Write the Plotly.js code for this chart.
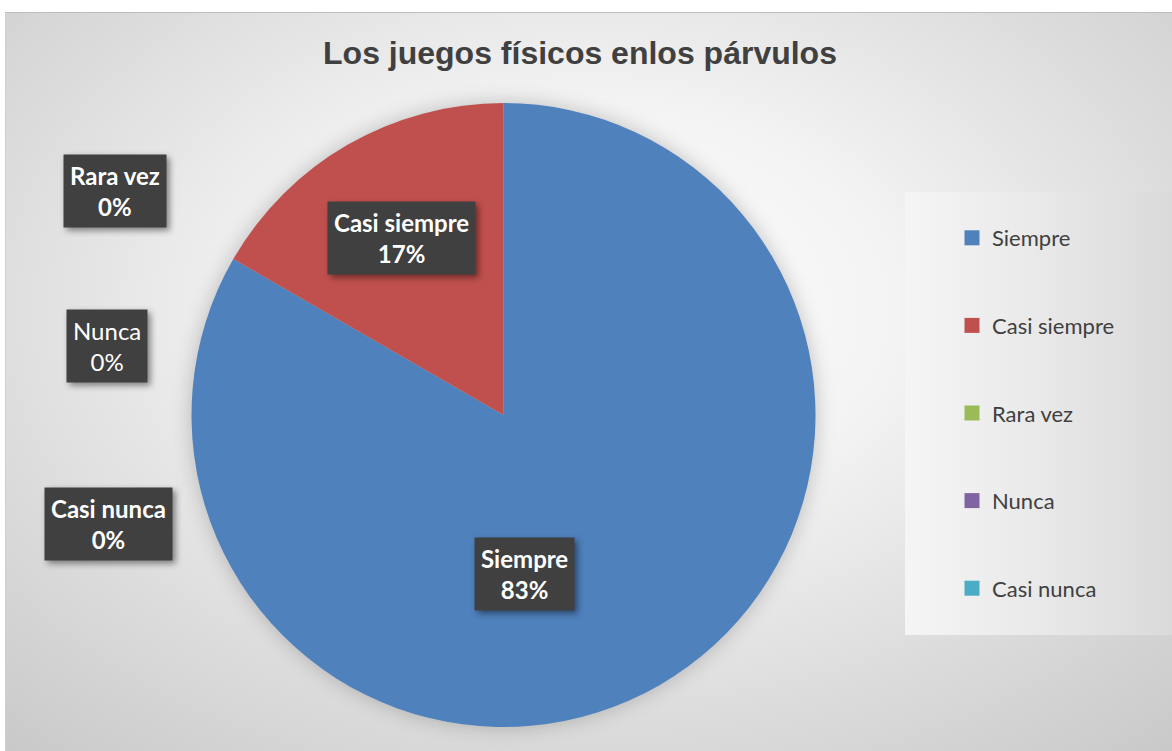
<!DOCTYPE html>
<html>
<head>
<meta charset="utf-8">
<script src="https://cdn.plot.ly/plotly-3.0.1.min.js"></script>
<style>
  html, body { margin: 0; padding: 0; background: #ffffff; width: 1172px; height: 751px; overflow: hidden; }
  #bg { position: absolute; left: 5px; top: 12px; width: 1167px; height: 739px;
        border-top: 1px solid #bdbdbd; border-left: 1px solid #d0d0d0;
        background: radial-gradient(ellipse 75% 80% at 50% 40%, #ffffff 0%, #f3f3f3 35%, #dcdcdc 70%, #c9c9c9 100%); }
  #legbox { position: absolute; left: 905px; top: 192px; width: 267px; height: 443px;
        background: linear-gradient(to right, #f5f5f5 0%, #e9e9e9 50%, #dadada 100%); }
  #chart { position: absolute; left: 0; top: 0; width: 1172px; height: 751px; }
  .pielayer { filter: drop-shadow(0px 0px 10px rgba(0,0,0,0.22)); }
  .annotation rect.bg { filter: drop-shadow(3px 3px 3px rgba(0,0,0,0.45)); }
</style>
</head>
<body>
<div id="bg"></div>
<div id="legbox"></div>
<div id="chart"></div>
<script>
// ---- data ----
const categories = ['Siempre', 'Casi siempre', 'Rara vez', 'Nunca', 'Casi nunca'];
const values = [5, 1, 0, 0, 0];
const colors = ['#4F81BD', '#C0504D', '#9BBB59', '#8064A2', '#4BACC6'];
const chartTitle = 'Los juegos físicos enlos párvulos';

// ---- layout helpers ----
const W = 1172, H = 751;
const px = x => x / W;
const py = y => 1 - y / H;

const total = values.reduce((a, b) => a + b, 0);
const pct = values.map(v => Math.round(v / total * 100) + '%');

// label box centres (pixels) and weight per category
const labelPos = [[524, 574], [401, 238], [115, 191], [107, 346], [108, 524]];
const labelBold = [true, true, true, false, true];

const pie = {
  type: 'pie',
  labels: categories,
  values: values,
  sort: false,
  direction: 'clockwise',
  rotation: 0,
  marker: { colors: colors, line: { width: 0 } },
  textinfo: 'none',
  hoverinfo: 'label+percent',
  showlegend: false,
  domain: { x: [px(191.5), px(815.5)], y: [py(727), py(103)] }
};

const legendTraces = categories.map((c, i) => ({
  type: 'scatter', mode: 'markers',
  x: [null], y: [null],
  name: c, legendgroup: 'g' + i,
  marker: { symbol: 'square', size: 15, color: colors[i] },
  hoverinfo: 'skip'
}));

const annotations = categories.map((c, i) => {
  const t = c + '<br>' + pct[i];
  return {
    xref: 'paper', yref: 'paper',
    x: px(labelPos[i][0]), y: py(labelPos[i][1]),
    xanchor: 'center', yanchor: 'middle',
    text: labelBold[i] ? '<b>' + t + '</b>' : t,
    showarrow: false,
    font: { family: 'Lato, "Open Sans", sans-serif', size: 24, color: '#ffffff' },
    bgcolor: '#404040',
    borderpad: 6,
    align: 'center'
  };
});

const layout = {
  width: W, height: H,
  margin: { l: 0, r: 0, t: 0, b: 0 },
  paper_bgcolor: 'rgba(0,0,0,0)',
  plot_bgcolor: 'rgba(0,0,0,0)',
  title: {
    text: '<b>' + chartTitle + '</b>',
    x: px(580), y: py(53), xanchor: 'center', yanchor: 'middle',
    font: { family: '"Liberation Sans", Arial, sans-serif', size: 32, color: '#404040' }
  },
  xaxis: { visible: false, domain: [0, 0.01] },
  yaxis: { visible: false, domain: [0, 0.01] },
  showlegend: true,
  legend: {
    x: px(952), y: py(217), xanchor: 'left', yanchor: 'top',
    bgcolor: 'rgba(0,0,0,0)',
    font: { family: 'Lato, "Open Sans", sans-serif', size: 22, color: '#404040' },
    traceorder: 'grouped',
    tracegroupgap: 56,
    itemwidth: 30
  },
  annotations: annotations
};

Plotly.newPlot('chart', [pie].concat(legendTraces), layout, { displayModeBar: false, staticPlot: true });
</script>
</body>
</html>
